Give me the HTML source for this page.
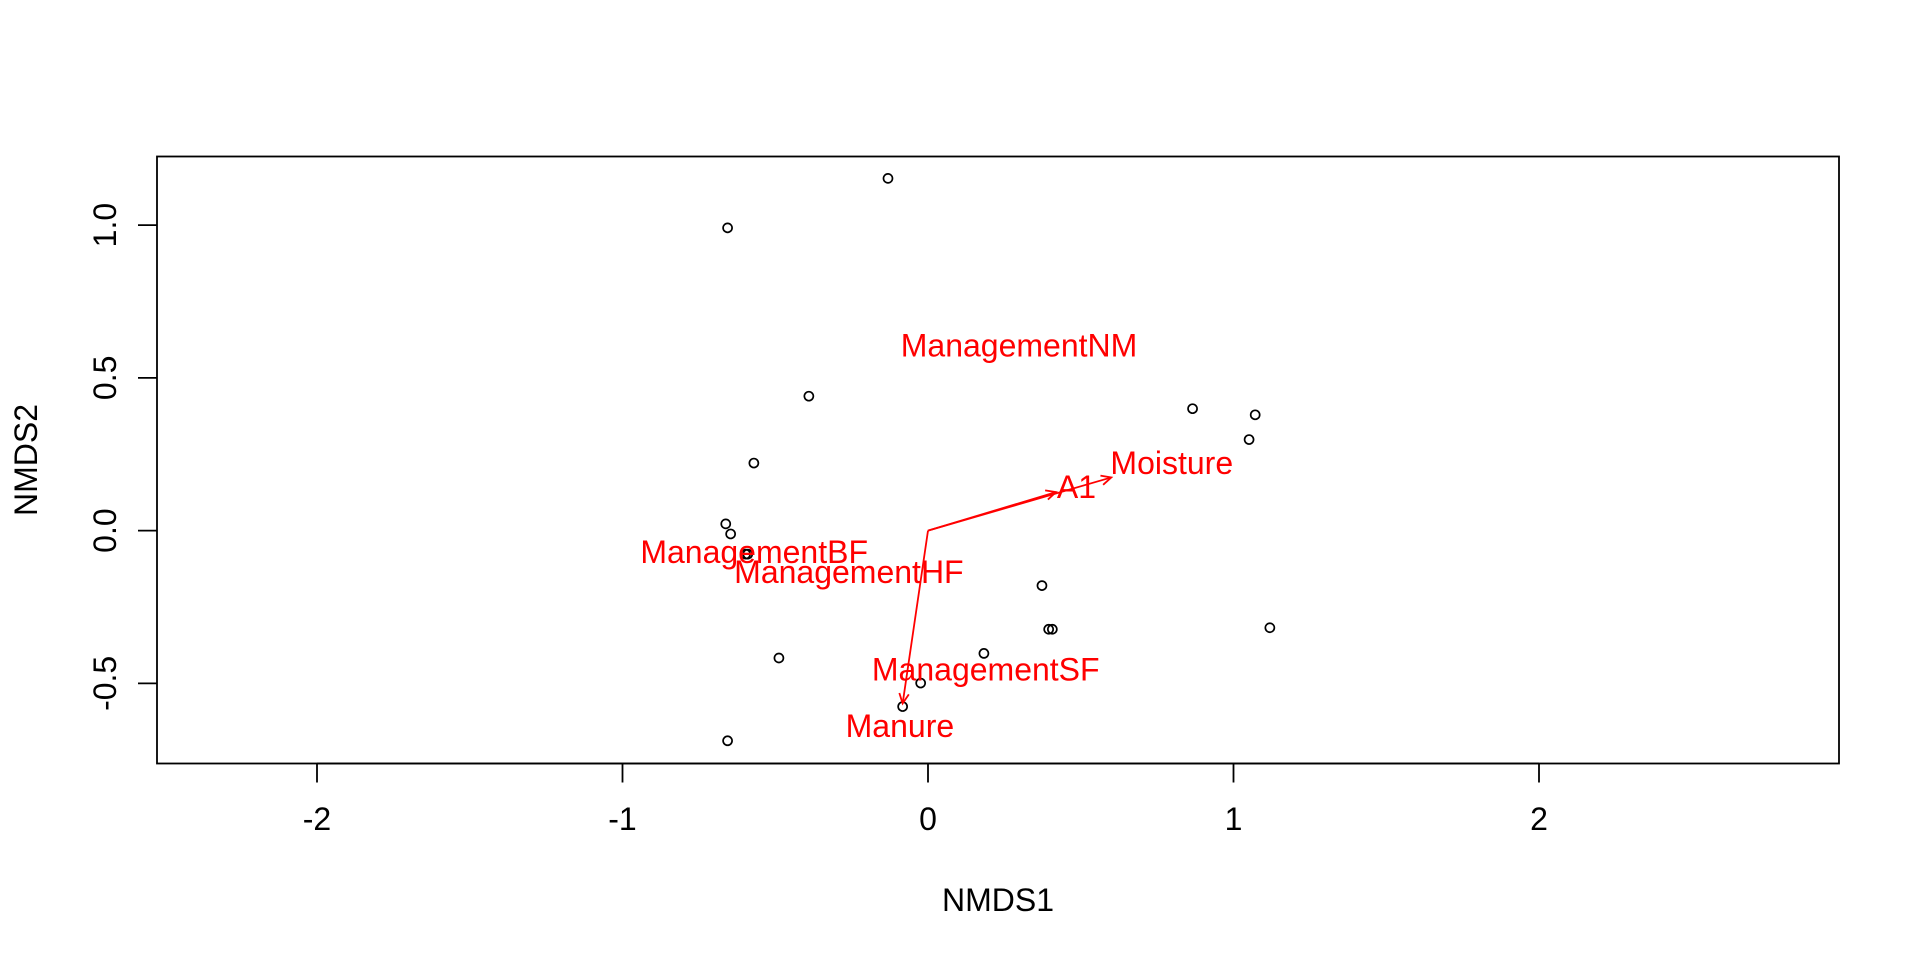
<!DOCTYPE html>
<html><head><meta charset="utf-8"><style>
html,body{margin:0;padding:0;background:#fff}
svg{display:block;font-family:"Liberation Sans",Arial,sans-serif}
</style></head><body>
<svg id="chart" width="1920" height="960" viewBox="0 0 1920 960" xmlns="http://www.w3.org/2000/svg">
<rect x="0" y="0" width="1920" height="960" fill="#fff"/>
<g id="axes"></g>
<g id="points"></g>
<g id="vectors"></g>
</svg>
<script>
const xTicks = [-2, -1, 0, 1, 2];
const yTicks = [-0.5, 0.0, 0.5, 1.0];
const yTickLabels = ["-0.5", "0.0", "0.5", "1.0"];
const siteX = [-0.131, -0.656, -0.390, -0.570, -0.662, -0.646, -0.597, -0.590, -0.488, -0.024, -0.083, -0.656, 0.866, 1.071, 1.051, 0.373, 0.395, 0.407, 1.119, 0.183];
const siteY = [1.153, 0.991, 0.440, 0.221, 0.022, -0.011, -0.077, -0.077, -0.417, -0.499, -0.576, -0.688, 0.399, 0.379, 0.298, -0.180, -0.323, -0.323, -0.318, -0.402];
const vecNames = ["A1", "Moisture", "Manure"];
const vecX = [0.419, 0.600, -0.083];
const vecY = [0.126, 0.174, -0.566];
const labelNames = ["ManagementNM", "Moisture", "A1", "ManagementBF", "ManagementHF", "ManagementSF", "Manure"];
const labelX = [0.298, 0.798, 0.486, -0.569, -0.259, 0.189, -0.092];
const labelY = [0.606, 0.221, 0.143, -0.070, -0.135, -0.455, -0.640];

const NS = "http://www.w3.org/2000/svg";
const L = 157, R = 1839, T = 156.5, B = 763.5;
const FS = 32;
const sx = v => 928 + v * 305.5;
const sy = v => 530.6 - v * 305.5;
function mk(tag, attrs, parent) {
  const e = document.createElementNS(NS, tag);
  for (const k in attrs) e.setAttribute(k, attrs[k]);
  parent.appendChild(e);
  return e;
}
const axes = document.getElementById('axes');
const box = mk('rect', {x: L, y: T, width: R - L, height: B - T, fill: 'none', stroke: '#000', 'stroke-width': 1.8}, axes);


xTicks.forEach(t => {
  const x = sx(t);
  const ln = mk('line', {x1: x, y1: B, x2: x, y2: B + 19, stroke: '#000', 'stroke-width': 1.8}, axes);
  
  
  const tx = mk('text', {x: x, y: 819, 'font-size': FS, 'text-anchor': 'middle', 'dominant-baseline': 'central'}, axes);
  tx.textContent = String(t);
  
  
});
const xa = mk('line', {x1: sx(xTicks[0]), y1: B, x2: sx(xTicks[xTicks.length-1]), y2: B, stroke: '#000', 'stroke-width': 1.8}, axes);


yTicks.forEach((t, i) => {
  const y = sy(t);
  const ln = mk('line', {x1: L, y1: y, x2: L - 19, y2: y, stroke: '#000', 'stroke-width': 1.8}, axes);
  
  
  const tx = mk('text', {x: 105, y: y, 'font-size': FS, 'text-anchor': 'middle', 'dominant-baseline': 'central', transform: 'rotate(-90 105 ' + y + ')'}, axes);
  tx.textContent = yTickLabels[i];
  
  
});
const xt = mk('text', {x: (L + R) / 2, y: 900, 'font-size': FS, 'text-anchor': 'middle', 'dominant-baseline': 'central'}, axes);
xt.textContent = 'NMDS1';


const yt = mk('text', {x: 26, y: (T + B) / 2, 'font-size': FS, 'text-anchor': 'middle', 'dominant-baseline': 'central', transform: 'rotate(-90 26 ' + ((T + B) / 2) + ')'}, axes);
yt.textContent = 'NMDS2';



const pts = document.getElementById('points');
siteX.forEach((v, i) => {
  const c = mk('circle', {cx: sx(v), cy: sy(siteY[i]), r: 4.5, fill: 'none', stroke: '#000', 'stroke-width': 1.7}, pts);
  
  
});

const vg = document.getElementById('vectors');
vecX.forEach((v, i) => {
  const x0 = sx(0), y0 = sy(0), x1 = sx(v), y1 = sy(vecY[i]);
  const ln = mk('line', {x1: x0, y1: y0, x2: x1, y2: y1, stroke: '#f00', 'stroke-width': 1.8}, vg);
  
  
  const a = Math.atan2(y1 - y0, x1 - x0), h = 11, s = 0.45;
  const p1 = [x1 - h * Math.cos(a - s), y1 - h * Math.sin(a - s)];
  const p2 = [x1 - h * Math.cos(a + s), y1 - h * Math.sin(a + s)];
  const hd = mk('polyline', {points: p1.join(',') + ' ' + x1 + ',' + y1 + ' ' + p2.join(','), fill: 'none', stroke: '#f00', 'stroke-width': 1.8}, vg);
  
  
});
labelNames.forEach((n, i) => {
  const tx = mk('text', {x: sx(labelX[i]), y: sy(labelY[i]), 'font-size': FS, fill: '#f00', 'text-anchor': 'middle', 'dominant-baseline': 'central'}, vg);
  tx.textContent = n;
  
  
});
</script>
</body></html>
